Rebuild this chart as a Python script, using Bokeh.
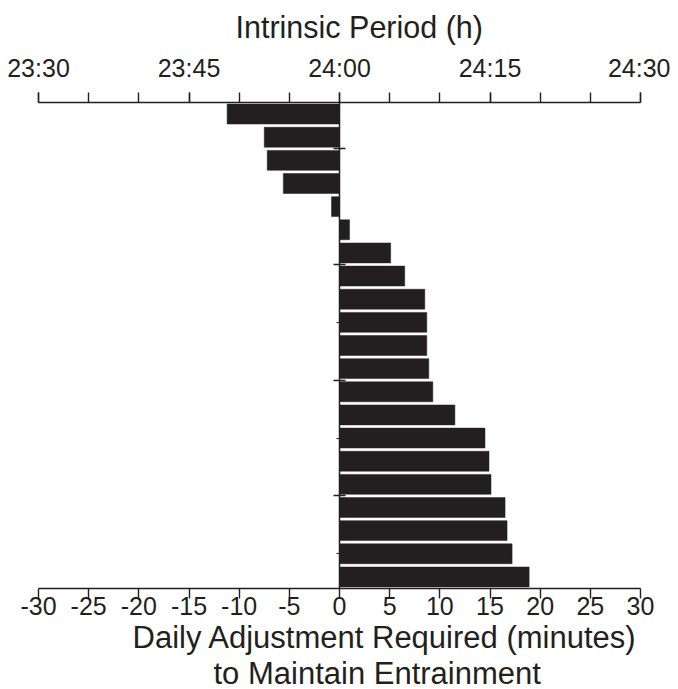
from bokeh.plotting import figure
from bokeh.models import LinearAxis, FixedTicker, Range1d, Title
from bokeh.embed import file_html
from bokeh.resources import INLINE

# Daily adjustment (minutes) per individual, top to bottom
adjustment = [-11.2, -7.5, -7.2, -5.6, -0.8, 1.0, 5.1, 6.5, 8.5, 8.7, 8.7,
              8.9, 9.3, 11.5, 14.5, 14.9, 15.1, 16.5, 16.7, 17.2, 18.9]
rows = [i + 0.5 for i in range(len(adjustment))]

bottom_ticks = list(range(-30, 31, 5))
bottom_labels = [str(t) for t in bottom_ticks]
top_major = [-30, -15, 0, 15, 30]
top_labels = ["23:30", "23:45", "24:00", "24:15", "24:30"]
row_major = [2, 7, 12, 17]
row_minor = [4.5, 9.5, 14.5, 19.5]

INK = "#231f20"
FONT = "Liberation Sans"

p = figure(width=670, height=689, output_backend="svg", toolbar_location=None,
           x_range=Range1d(-30, 30), y_range=Range1d(len(adjustment), 0),
           min_border_left=38, min_border_right=30, min_border_top=100,
           min_border_bottom=101)
p.outline_line_color = None
p.grid.visible = False
p.background_fill_color = "white"
p.border_fill_color = "white"

p.hbar(y=rows, height=0.86, left=0, right=adjustment, fill_color=INK,
       line_color=INK, line_width=0.5)

# bottom axis
xa = p.xaxis[0]
xa.ticker = FixedTicker(ticks=bottom_ticks, minor_ticks=[])
xa.major_label_overrides = {t: l for t, l in zip(bottom_ticks, bottom_labels)}
xa.major_tick_out = 10
xa.major_tick_in = 0
xa.axis_line_color = INK
xa.axis_line_width = 1.4
xa.major_tick_line_color = INK
xa.major_tick_line_width = 1.4
xa.major_label_text_font = FONT
xa.major_label_text_font_size = "25px"
xa.major_label_text_color = INK
xa.major_label_standoff = -2

# top axis
ta = LinearAxis(ticker=FixedTicker(ticks=top_major, minor_ticks=bottom_ticks),
                major_label_overrides={t: l for t, l in zip(top_major, top_labels)})
ta.major_tick_out = 10
ta.major_tick_in = 0
ta.minor_tick_out = 10
ta.minor_tick_in = 0
ta.axis_line_color = INK
ta.axis_line_width = 1.4
ta.major_tick_line_color = INK
ta.major_tick_line_width = 1.4
ta.minor_tick_line_color = INK
ta.minor_tick_line_width = 1.4
ta.major_label_text_font = FONT
ta.major_label_text_font_size = "25px"
ta.major_label_text_color = INK
ta.major_label_standoff = 11
p.add_layout(ta, "above")

# zero line as y axis
ya = p.yaxis[0]
ya.fixed_location = 0
ya.ticker = FixedTicker(ticks=row_major, minor_ticks=row_minor)
ya.major_label_overrides = {t: "" for t in row_major}
ya.major_tick_in = 6
ya.major_tick_out = 6
ya.minor_tick_in = 0
ya.minor_tick_out = 3
ya.axis_line_color = INK
ya.axis_line_width = 1.5
ya.major_tick_line_color = INK
ya.major_tick_line_width = 1.5
ya.minor_tick_line_color = INK
ya.minor_tick_line_width = 1.2

# titles
p.title.text = "Intrinsic Period (h)"
p.title.text_font = FONT
p.title.text_font_size = "30.5px"
p.title.text_font_style = "normal"
p.title.text_color = INK
p.title.align = "left"
p.title.offset = 197
p.title.standoff = 14

t1 = Title(text="Daily Adjustment Required (minutes)", align="left", offset=94,
           text_font=FONT, text_font_size="31px", text_font_style="normal",
           text_color=INK, standoff=1)
t2 = Title(text="to Maintain Entrainment", align="left", offset=175,
           text_font=FONT, text_font_size="31px", text_font_style="normal",
           text_color=INK, standoff=-4)
p.add_layout(t1, "below")
p.add_layout(t2, "below")

open("out.html", "w").write(file_html(p, INLINE))
